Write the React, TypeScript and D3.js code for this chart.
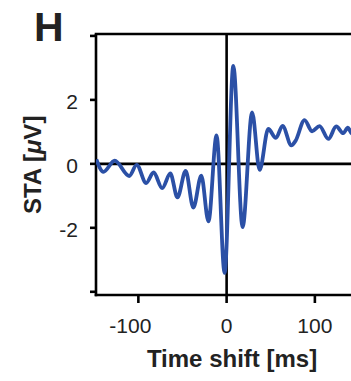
import React from "react";
import * as d3 from "d3";

const times = [-147.6, -139.6, -126.8, -110.4, -101.9, -91.2, -82.7, -73.0, -63.8, -55.7, -46.4, -37.7, -28.7, -20.6, -11.4, -2.3, 7.6, 18.1, 28.9, 37.4, 47.2, 55.8, 63.4, 73.3, 78.1, 88.3, 96.8, 105.3, 115.3, 124.2, 132.2, 137.4, 142.0, 148.0];
const staValues = [0.14, -0.25, 0.10, -0.38, -0.03, -0.60, -0.27, -0.76, -0.30, -1.05, -0.22, -1.37, -0.37, -1.80, 0.89, -3.41, 3.06, -1.98, 1.61, -0.19, 1.09, 0.81, 1.19, 0.58, 0.72, 1.37, 1.02, 1.18, 0.78, 1.17, 0.96, 1.13, 0.95, 1.05];
const xTicks = [-100, 0, 100];
const yTicks = [-4, -2, 0, 2, 4];
const panelLabel = "H";
const xLabel = "Time shift [ms]";

const W = 351;
const H = 381;
const FONT = "'Liberation Sans', Arial, Helvetica, sans-serif";

export default function App() {
  const x = d3.scaleLinear().domain([-148, 150]).range([96, 359]);
  const y = d3.scaleLinear().domain([-4.1, 4.06]).range([295, 34]);
  const pts = times.map((t, i) => [t, staValues[i]] as [number, number]);
  const line = d3
    .line<[number, number]>()
    .x((d) => x(d[0]))
    .y((d) => y(d[1]))
    .curve(d3.curveMonotoneX);
  const [x0, x1] = x.range();
  const [yb, yt] = y.range();
  const axisW = 2.6;
  return (
    <svg
      width={W}
      height={H}
      style={{ position: "absolute", left: 0, top: 0, background: "#fff" }}
      fontFamily={FONT}
    >
      <defs>
        <clipPath id="plotclip">
          <rect x={x0} y={yt} width={x1 - x0} height={yb - yt} />
        </clipPath>
      </defs>
      <line x1={x(0)} x2={x(0)} y1={yt} y2={yb} stroke="#000" strokeWidth={axisW} />
      <line x1={x0} x2={x1} y1={y(0)} y2={y(0)} stroke="#000" strokeWidth={axisW} />
      <line x1={x0 - axisW / 2} x2={x1} y1={yt} y2={yt} stroke="#000" strokeWidth={axisW} />
      <line x1={x0} x2={x0} y1={yt} y2={yb + axisW / 2} stroke="#000" strokeWidth={axisW} />
      <line x1={x0 - axisW / 2} x2={x1} y1={yb} y2={yb} stroke="#000" strokeWidth={axisW} />
      {yTicks.map((v) => (
        <g key={"y" + v}>
          <line x1={x0 - 6} x2={x0} y1={y(v)} y2={y(v)} stroke="#000" strokeWidth={axisW} />
          {v !== 4 && v !== -4 && (
            <text
              x={78}
              y={y(v) + 4}
              textAnchor="end"
              dominantBaseline="middle"
              fontSize={21}
              fill="#222"
            >
              {v}
            </text>
          )}
        </g>
      ))}
      {xTicks.map((v) => (
        <g key={"x" + v}>
          <line x1={x(v)} x2={x(v)} y1={yb} y2={yb + 8} stroke="#000" strokeWidth={axisW} />
          <text
            x={x(v)}
            dx={v < 0 ? -8 : 0}
            y={327}
            textAnchor="middle"
            dominantBaseline="middle"
            fontSize={21}
            fill="#222"
          >
            {v}
          </text>
        </g>
      ))}
      <path
        d={line(pts) || ""}
        fill="none"
        stroke="#2b50a6"
        strokeWidth={3.8}
        strokeLinejoin="round"
        clipPath="url(#plotclip)"
      />
      <text x={232} y={367} textAnchor="middle" fontSize={24} fontWeight="bold" fill="#222">
        {xLabel}
      </text>
      <text
        transform={`translate(41,${y(0) + 1}) rotate(-90)`}
        textAnchor="middle"
        fontSize={24}
        fontWeight="bold"
        fill="#222"
      >
        STA [<tspan fontStyle="italic">μ</tspan>V]
      </text>
      <text x={34} y={40.5} fontSize={41} fontWeight="bold" fill="#222">
        {panelLabel}
      </text>
    </svg>
  );
}
